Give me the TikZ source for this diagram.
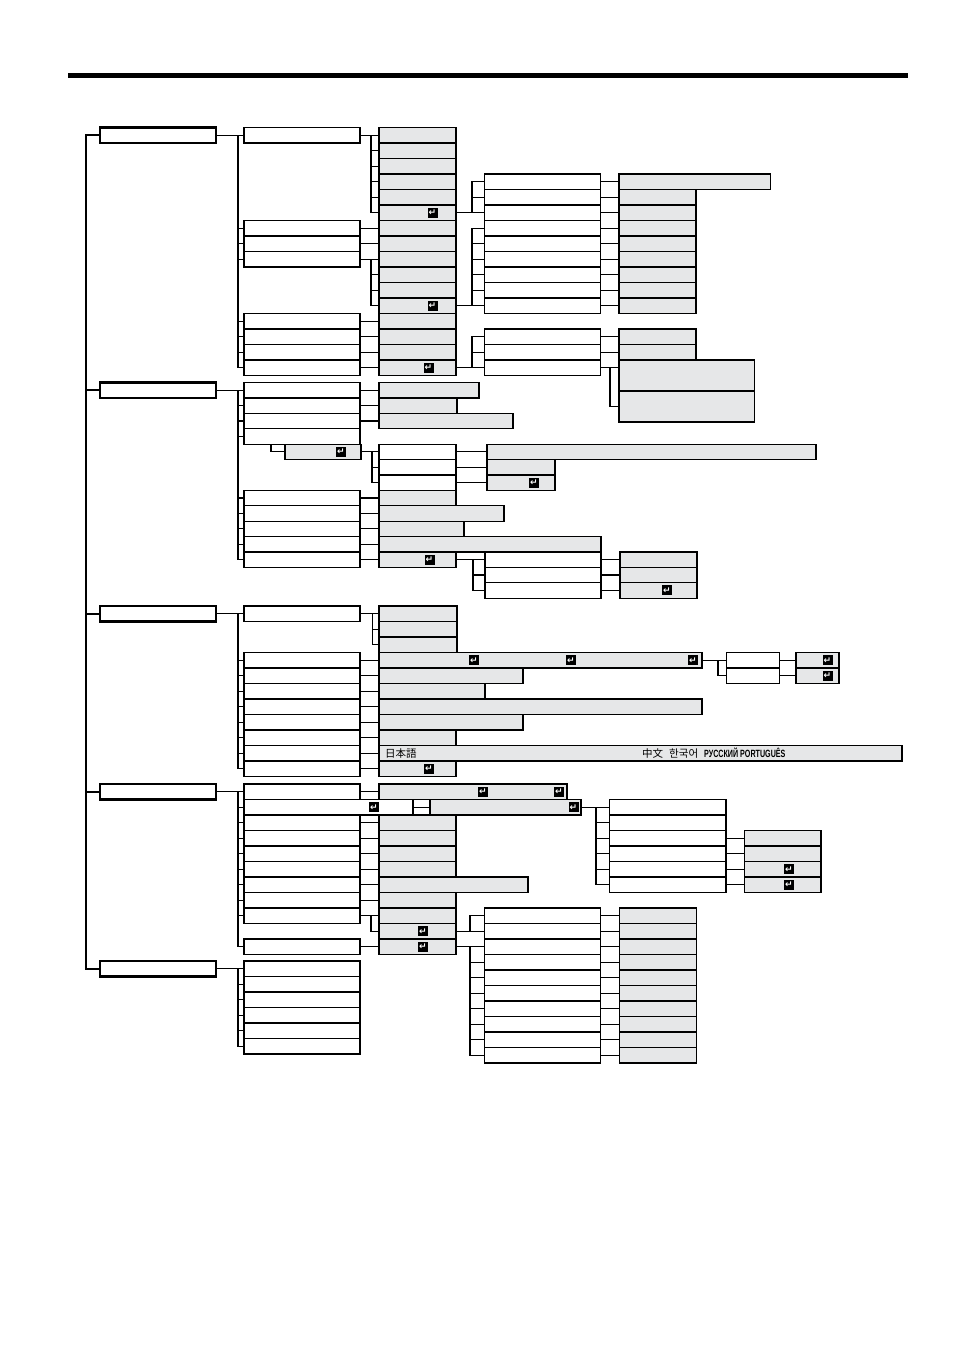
\documentclass[tikz,border=0pt]{standalone}
\usepackage{fontspec}
\usepackage{xcolor}
\usetikzlibrary{positioning}
\newfontfamily\cjkfont{Noto Sans CJK JP}
\newfontfamily\keyfont{DejaVu Sans}
\newfontfamily\langfont[FakeStretch=0.68]{Liberation Sans}
\definecolor{menugray}{RGB}{230,231,232}

\begin{document}
\begin{tikzpicture}[
    x=1pt, y=-1pt,
    box/.style    ={draw, line width=1.2pt, anchor=north west, inner sep=0pt,
                    outer sep=0pt, minimum height=15.5pt, fill=white},
    gbox/.style   ={box, fill=menugray},
    topbox/.style ={box, line width=2.2pt},
    wd/.style     ={minimum width=#1pt},
    key/.style    ={fill=black, text=white, inner sep=0pt, minimum size=10pt,
                    font=\keyfont\bfseries\fontsize{9}{9}\selectfont},
    link/.style   ={line width=1.3pt},
    bus/.style    ={line width=2pt},
    lang/.style   ={anchor=west, inner sep=0pt}
]
\useasboundingbox (0,0) rectangle (954,1350);

% Top rule
\draw[line width=5pt] (68,75.5) -- (908,75.5);

% ---------- Menu 1 ----------
\begin{scope}[shift={(0,127.5)}, y=-15.5pt]
\node[topbox, wd=116] (a1) at (100,0) {};
\foreach \k in {0,6,7,8,12,13,14,15}
    \node[box, wd=116] (b1-\k) at (244,\k) {};
\foreach \k in {0,...,15}
    \node[gbox, wd=77] (c1-\k) at (379,\k) {};
\foreach \k in {3,4,5,6,7,8,9,10,11,13,14,15}
    \node[box, wd=116] (d1-\k) at (484.5,\k) {};
\node[gbox, wd=151.5] (e1-3) at (619,3) {};
\foreach \k in {4,5,6,7,8,9,10,11,13,14}
    \node[gbox, wd=77] (e1-\k) at (619,\k) {};
\node[gbox, wd=135.5, minimum height=31pt] (e1-15) at (619,15) {};
\node[gbox, wd=135.5, minimum height=31pt] (e1-17) at (619,17) {};
\node[key] (k1-5)  at (432.5,5.5)  {↵};
\node[key] (k1-11) at (432.5,11.5) {↵};
\node[key] (k1-15) at (428.5,15.5) {↵};

\coordinate (s1) at (238,0.5);
\coordinate (t1) at (371,0);
\coordinate (u1) at (472,0);
\coordinate (v1) at (610,0);
\draw[link] (a1.east) -- (b1-0.west);
\draw[link] (s1) |- (b1-15.west);
\foreach \k in {6,7,8,12,13,14}
    \draw[link] (b1-\k.west) -- (b1-\k.west -| s1);
% level 2 -> level 3
\draw[link] (b1-0.east) -- (c1-0.west);
\draw[link] (b1-0.east -| t1) |- (c1-5.west);
\foreach \k in {1,...,4}
    \draw[link] (c1-\k.west -| t1) -- (c1-\k.west);
\foreach \k in {6,7,8,12,13,14,15}
    \draw[link] (b1-\k.east) -- (c1-\k.west);
\draw[link] (b1-8.east -| t1) |- (c1-11.west);
\foreach \k in {9,10}
    \draw[link] (c1-\k.west -| t1) -- (c1-\k.west);
% level 3 -> level 4
\draw[link] (c1-5.east) -| (u1 |- d1-3.west) -- (d1-3.west);
\draw[link] (c1-11.east) -| (u1 |- d1-6.west) -- (d1-6.west);
\draw[link] (c1-15.east) -| (u1 |- d1-13.west) -- (d1-13.west);
\foreach \k in {4,5,7,8,9,10,11,14,15}
    \draw[link] (d1-\k.west -| u1) -- (d1-\k.west);
% level 4 -> level 5
\foreach \k in {3,4,5,6,7,8,9,10,11,13,14}
    \draw[link] (d1-\k.east) -- (e1-\k.west);
\draw[link] (d1-15.east) -- (d1-15.east -| e1-15.west);
\draw[link] (d1-15.east -| v1) |- (e1-17.west);
\end{scope}

% ---------- Menu 2 ----------
\begin{scope}[shift={(0,382.5)}, y=-15.4pt, box/.append style={minimum height=15.4pt}]
\node[topbox, wd=116] (a2) at (100,0) {};
\foreach \k in {0,1,2,3,7,8,9,10,11}
    \node[box, wd=116] (b2-\k) at (244,\k) {};
\node[gbox, wd=76] (b2-4) at (285,4) {};
\node[gbox, wd=100] (c2-0) at (379,0) {};
\node[gbox, wd=78]  (c2-1) at (379,1) {};
\node[gbox, wd=134] (c2-2) at (379,2) {};
\foreach \k in {4,5,6}
    \node[box, wd=77] (c2-\k) at (379,\k) {};
\node[gbox, wd=77]  (c2-7)  at (379,7)  {};
\node[gbox, wd=125] (c2-8)  at (379,8)  {};
\node[gbox, wd=85]  (c2-9)  at (379,9)  {};
\node[gbox, wd=222] (c2-10) at (379,10) {};
\node[gbox, wd=77]  (c2-11) at (379,11) {};
\node[gbox, wd=329] (d2-4) at (487,4) {};
\node[gbox, wd=68]  (d2-5) at (487,5) {};
\node[gbox, wd=68]  (d2-6) at (487,6) {};
\foreach \k in {11,12,13}
    \node[box, wd=116] (d2-\k) at (485,\k) {};
\foreach \k in {11,12,13}
    \node[gbox, wd=77] (e2-\k) at (620,\k) {};
\node[key] (k2-4)  at (341,4.5)   {↵};
\node[key] (k2-6)  at (534,6.5)   {↵};
\node[key] (k2-11) at (429.5,11.5) {↵};
\node[key] (k2-13) at (667,13.5)  {↵};

\coordinate (s2) at (238,0.5);
\coordinate (r2) at (271,4);
\coordinate (t2) at (372,0);
\coordinate (u2) at (473,0);
\draw[link] (a2.east) -- (b2-0.west);
\draw[link] (s2) |- (b2-11.west);
\foreach \k in {1,2,3,7,8,9,10}
    \draw[link] (b2-\k.west) -- (b2-\k.west -| s2);
\draw[link] (r2) |- (b2-4.west);
\foreach \k in {0,1,2,7,8,9,10,11}
    \draw[link] (b2-\k.east) -- (c2-\k.west);
\draw[link] (b2-4.east) -- (c2-4.west);
\draw[link] (b2-4.east -| t2) |- (c2-6.west);
\draw[link] (c2-5.west -| t2) -- (c2-5.west);
\foreach \k in {4,5,6}
    \draw[link] (c2-\k.east) -- (d2-\k.west);
\draw[link] (c2-11.east) -- (d2-11.west);
\draw[link] (c2-11.east -| u2) |- (d2-13.west);
\draw[link] (d2-12.west -| u2) -- (d2-12.west);
\foreach \k in {11,12,13}
    \draw[link] (d2-\k.east) -- (e2-\k.west);
\end{scope}

% ---------- Menu 3 ----------
\begin{scope}[shift={(0,606)}, y=-15.5pt]
\node[topbox, wd=116] (a3) at (100,0) {};
\foreach \k in {0,3,4,5,6,7,8,9,10}
    \node[box, wd=116] (b3-\k) at (244,\k) {};
\foreach \k in {0,1,2}
    \node[gbox, wd=78] (c3-\k) at (379,\k) {};
\node[gbox, wd=323] (c3-3)  at (379,3)  {};
\node[gbox, wd=144] (c3-4)  at (379,4)  {};
\node[gbox, wd=106] (c3-5)  at (379,5)  {};
\node[gbox, wd=323] (c3-6)  at (379,6)  {};
\node[gbox, wd=144] (c3-7)  at (379,7)  {};
\node[gbox, wd=77]  (c3-8)  at (379,8)  {};
\node[gbox, wd=523] (c3-9)  at (379,9)  {};
\node[gbox, wd=77]  (c3-10) at (379,10) {};
\foreach \k in {3,4}
    \node[box, wd=53] (d3-\k) at (726.5,\k) {};
\foreach \k in {3,4}
    \node[gbox, wd=43] (e3-\k) at (796,\k) {};
\node[key] (k3-3a) at (474,3.5)   {↵};
\node[key] (k3-3b) at (571,3.5)   {↵};
\node[key] (k3-3c) at (693,3.5)   {↵};
\node[key] (k3-10) at (429,10.5)  {↵};
\node[key] (k3-e3) at (827.5,3.5) {↵};
\node[key] (k3-e4) at (827.5,4.5) {↵};
\node[lang, font=\cjkfont\fontsize{10.5}{10.5}\selectfont] (ja) at (385,9.5) {日本語};
\node[lang] (others) at (642,9.5)
    {{\cjkfont\fontsize{10.5}{10.5}\selectfont 中文\hspace{6pt}한국어}\hspace{6pt}{\langfont\bfseries\fontsize{10.5}{10.5}\selectfont РУССКИЙ PORTUGUÊS}};

\coordinate (s3) at (238,0.5);
\coordinate (t3) at (372.5,0);
\coordinate (u3) at (718,0);
\draw[link] (a3.east) -- (b3-0.west);
\draw[link] (s3) |- (b3-10.west);
\foreach \k in {3,...,9}
    \draw[link] (b3-\k.west) -- (b3-\k.west -| s3);
\foreach \k in {0,3,4,5,6,7,8,9,10}
    \draw[link] (b3-\k.east) -- (c3-\k.west);
\draw[link] (b3-0.east -| t3) |- (c3-2.west);
\draw[link] (c3-1.west -| t3) -- (c3-1.west);
\draw[link] (c3-3.east) -- (d3-3.west);
\draw[link] (c3-3.east -| u3) |- (d3-4.west);
\foreach \k in {3,4}
    \draw[link] (d3-\k.east) -- (e3-\k.west);
\end{scope}

% ---------- Menu 4 ----------
\begin{scope}[shift={(0,784)}, y=-15.5pt]
\node[topbox, wd=116] (a4) at (100,0) {};
\node[box, wd=116] (b4-0) at (244,0) {};
\node[box, wd=169] (b4-1) at (244,1) {};
\foreach \k in {2,...,8,10}
    \node[box, wd=116] (b4-\k) at (244,\k) {};
\node[gbox, wd=188] (c4-0) at (379,0) {};
\node[gbox, wd=151] (c4-1) at (430,1) {};
\foreach \k in {2,3,4,5,7,8,9,10}
    \node[gbox, wd=77] (c4-\k) at (379,\k) {};
\node[gbox, wd=149] (c4-6) at (379,6) {};
\foreach \k in {1,...,6}
    \node[box, wd=116.5] (d4-\k) at (609.5,\k) {};
\foreach \k in {3,...,6}
    \node[gbox, wd=76.5] (e4-\k) at (744.5,\k) {};
\foreach \k in {8,...,17}
    \node[box, wd=116] (d4-\k) at (484.5,\k) {};
\foreach \k in {8,...,17}
    \node[gbox, wd=77] (e4-\k) at (619.5,\k) {};
\node[key] (k4-b1) at (374,1.5)   {↵};
\node[key] (k4-0a) at (483,0.5)   {↵};
\node[key] (k4-0b) at (559,0.5)   {↵};
\node[key] (k4-1)  at (573.5,1.5) {↵};
\node[key] (k4-9)  at (423,9.5)   {↵};
\node[key] (k4-10) at (423,10.5)  {↵};
\node[key] (k4-e5) at (789,5.5)   {↵};
\node[key] (k4-e6) at (789,6.5)   {↵};

\coordinate (s4) at (238,0.5);
\coordinate (t4) at (371,0);
\coordinate (u4) at (596,0);
\coordinate (v4) at (470,0);
\draw[link] (a4.east) -- (b4-0.west);
\draw[link] (s4) |- (b4-10.west);
\foreach \k in {1,...,8}
    \draw[link] (b4-\k.west) -- (b4-\k.west -| s4);
\foreach \k in {0,...,8,10}
    \draw[link] (b4-\k.east) -- (c4-\k.west);
\draw[link] (b4-8.east -| t4) |- (c4-9.west);
% submenu of the long entry
\draw[link] (c4-1.east) -- (d4-1.west);
\draw[link] (c4-1.east -| u4) |- (d4-6.west);
\foreach \k in {2,...,5}
    \draw[link] (d4-\k.west -| u4) -- (d4-\k.west);
\foreach \k in {3,...,6}
    \draw[link] (d4-\k.east) -- (e4-\k.west);
% lower list
\draw[link] (c4-9.east) -- (d4-9.west);
\draw[link] (c4-9.east -| v4) |- (d4-8.west);
\draw[link] (c4-10.east) -- (d4-10.west);
\draw[link] (c4-10.east -| v4) |- (d4-17.west);
\foreach \k in {11,...,16}
    \draw[link] (d4-\k.west -| v4) -- (d4-\k.west);
\foreach \k in {8,...,17}
    \draw[link] (d4-\k.east) -- (e4-\k.west);
\end{scope}

% ---------- Menu 5 ----------
\begin{scope}[shift={(0,961)}, y=-15.5pt]
\node[topbox, wd=116] (a5) at (100,0) {};
\foreach \k in {0,...,5}
    \node[box, wd=116] (b5-\k) at (244,\k) {};
\coordinate (s5) at (238,0.5);
\draw[link] (a5.east) -- (b5-0.west);
\draw[link] (s5) |- (b5-5.west);
\foreach \k in {1,...,4}
    \draw[link] (b5-\k.west) -- (b5-\k.west -| s5);
\end{scope}

% Main bus
\draw[bus] (a1.west) -- ++(-14,0) coordinate (m) |- (a5.west);
\foreach \n in {a2,a3,a4}
    \draw[bus] (\n.west) -- (\n.west -| m);

\end{tikzpicture}
\end{document}
